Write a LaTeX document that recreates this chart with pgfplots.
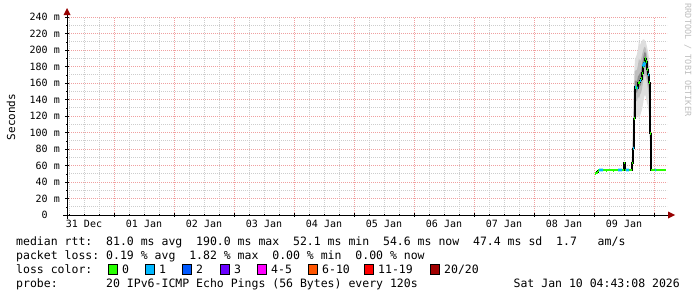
\documentclass[border=0pt]{standalone}
\usepackage{pgfplots}
\pgfplotsset{compat=1.18}
\usepackage{pgfplotstable}
\usepgfplotslibrary{fillbetween}
\usepackage{fontspec}
\setmainfont{DejaVu Sans Mono}
\newfontfamily\rrdmono{DejaVu Sans Mono}
\newcommand\legfont{\rrdmono\fontsize{11.5bp}{13bp}\selectfont}
\newcommand\axfont{\rrdmono\fontsize{10bp}{12bp}\selectfont}
\newcommand\unitfont{\rrdmono\fontsize{11bp}{13bp}\selectfont}
\newcommand\wmfont{\rrdmono\fontsize{8.5bp}{10bp}\selectfont}
\definecolor{mgrid}{RGB}{240,160,160}
\definecolor{sgrid}{RGB}{205,205,205}
\definecolor{arrowred}{RGB}{150,0,0}
\definecolor{wmgray}{RGB}{190,190,190}
\definecolor{lc0}{HTML}{26FF00}
\definecolor{lc1}{HTML}{00B8FF}
\definecolor{lc2}{HTML}{0059FF}
\definecolor{lc3}{HTML}{6A00FF}
\definecolor{lc45}{HTML}{FF00FF}
\definecolor{lc610}{HTML}{FF5500}
\definecolor{lc1119}{HTML}{FF0000}
\definecolor{lc20}{HTML}{A10000}
\definecolor{smoke1}{RGB}{222,222,222}
\definecolor{smoke2}{RGB}{190,190,190}
\definecolor{smoke3}{RGB}{140,140,140}

% median rtt, x in hours since 31 Dec 00:00
\pgfplotstableread{
x y
216.4 50
216.8 51
217.2 52
217.6 54
218.0 54.5
218.4 54.5
218.8 54.5
219.2 54.5
219.6 54.5
220.0 54.5
220.4 54.5
220.8 54.3
221.2 54.5
221.6 54.5
222.0 54.5
222.4 54.6
222.8 54.5
223.2 54.5
223.6 54.4
224.0 54.5
224.4 54.5
224.8 54.5
225.2 54.5
225.6 54.5
226.0 54.5
226.4 54.5
226.8 54.5
227.2 54.5
227.6 54.5
228.0 63
228.4 54.5
228.8 54.5
229.2 54.5
229.6 54.5
230.0 54.5
230.4 54.5
230.8 54.5
231.2 63
231.6 81
232.0 117
232.4 155
232.8 155
233.2 154
233.6 160
234.0 161
234.4 163
234.8 165
235.2 172
235.6 180
236.0 185
236.4 190
236.8 186
237.2 176
237.6 170
238.0 161
238.4 99
238.8 54.5
239.2 54.5
239.6 54.5
240.0 54.5
240.4 54.5
240.8 54.5
241.2 54.5
241.6 54.5
242.0 54.5
242.4 54.5
242.8 54.5
243.2 54.5
243.6 54.5
244.0 54.5
244.4 54.5
244.8 54.5
}\median

% smoke bands: x lo1 up1 lo2 up2 lo3 up3
\pgfplotstableread{
x lo1 up1 lo2 up2 lo3 up3
230.8 54.5 54.5 54.5 54.5 54.5 54.5
231.2 56 72 59 67 61 65
231.6 72 115 78 98 79 88
232.0 98 170 108 152 112 126
232.4 118 188 134 174 149 163
232.8 120 192 138 176 149 163
233.2 118 195 138 176 148 162
233.6 122 202 144 182 153 168
234.0 116 212 141 190 154 170
234.4 120 206 146 186 156 172
234.8 124 209 148 189 158 174
235.2 128 211 153 194 165 182
235.6 134 213 160 199 173 190
236.0 142 213 167 203 178 196
236.4 146 211 170 204 181 198
236.8 142 209 167 201 178 195
237.2 136 204 160 194 168 186
237.6 131 198 152 186 162 178
238.0 120 190 142 176 152 170
238.4 84 152 92 124 94 110
238.8 54.5 62 54.5 57 54.5 55
239.2 54.5 54.5 54.5 54.5 54.5 54.5
}\smoke

\begin{document}
\begin{tikzpicture}
\begin{axis}[
  at={(67bp,-215bp)}, anchor=south west,
  width=600bp, height=198bp, scale only axis,
  xmin=5.2, xmax=245.2, ymin=0, ymax=240,
  axis line style={draw=none},
  xtick={24,48,...,240}, xticklabels={},
  minor xtick={6,12,18,30,36,42,54,60,66,78,84,90,102,108,114,126,132,138,150,156,162,174,180,186,198,204,210,222,228,234},
  ytick={0,20,...,240},
  yticklabels={0\phantom{~m},20 m,40 m,60 m,80 m,100 m,120 m,140 m,160 m,180 m,200 m,220 m,240 m},
  minor ytick={10,30,...,230},
  grid=both,
  major grid style={mgrid, line width=0.7bp, dash pattern=on 1bp off 1bp},
  minor grid style={sgrid, line width=0.7bp, dash pattern=on 1bp off 1bp},
  xtick pos=bottom, ytick pos=left,
  tick align=center, major tick length=4bp, minor tick length=2bp,
  tick style={black, line width=0.5bp},
  extra x ticks={12,36,60,84,108,132,156,180,204,228},
  extra x tick labels={31 Dec,01 Jan,02 Jan,03 Jan,04 Jan,05 Jan,06 Jan,07 Jan,08 Jan,09 Jan},
  extra x tick style={grid=none, major tick length=0pt},
  xticklabel style={font=\axfont, anchor=base, inner sep=0pt, yshift=-12bp},
  yticklabel style={font=\axfont, anchor=east, inner sep=0pt, xshift=-5bp},
  unbounded coords=jump,
]
% smoke
\addplot[name path=l1, draw=none, forget plot] table[x=x, y=lo1] {\smoke};
\addplot[name path=u1, draw=none, forget plot] table[x=x, y=up1] {\smoke};
\addplot[smoke1, forget plot] fill between[of=l1 and u1];
\addplot[name path=l2, draw=none, forget plot] table[x=x, y=lo2] {\smoke};
\addplot[name path=u2, draw=none, forget plot] table[x=x, y=up2] {\smoke};
\addplot[smoke2, forget plot] fill between[of=l2 and u2];
\addplot[name path=l3, draw=none, forget plot] table[x=x, y=lo3] {\smoke};
\addplot[name path=u3, draw=none, forget plot] table[x=x, y=up3] {\smoke};
\addplot[smoke3, forget plot] fill between[of=l3 and u3];
% median line
\addplot[black, line width=1.3bp, const plot mark left, mark=none] table[x=x, y=y] {\median};
\addplot[lc0, line width=2.8bp, jump mark left, mark=none] table[x=x, y=y] {\median};
\addplot[lc1, line width=2.8bp, mark=none] coordinates {
 (218.0,54.5) (219.6,54.5) (219.7,nan)
 (225.6,54.5) (227.2,54.5) (227.3,nan)
 (228.8,54.5) (230.0,54.5) (230.1,nan)
 (231.6,81) (232.0,81) (232.1,nan)
 (232.4,155) (232.8,155) (232.9,nan)
 (233.2,154) (233.6,154) (233.7,nan)
 (234.4,163) (234.8,163) (234.9,nan)
 (235.6,180) (236.4,185) (236.5,nan)
 (237.6,170) (238.0,170) (238.1,nan)
 (240.4,54.5) (240.8,54.5)
};
\end{axis}
% axes
\draw[black, line width=1bp] (67bp,-219bp) -- (67bp,-14bp);
\draw[black, line width=1bp] (63bp,-215bp) -- (669bp,-215bp);
\fill[arrowred] (63.5bp,-15bp) -- (70.5bp,-15bp) -- (67bp,-8bp) -- cycle;
\fill[arrowred] (668bp,-211.5bp) -- (668bp,-218.5bp) -- (675bp,-215bp) -- cycle;
% unit label and watermark
\node[rotate=90, font=\unitfont, inner sep=0pt] at (11bp,-117bp) {Seconds};
\node[rotate=-90, font=\wmfont, text=wmgray, inner sep=0pt] at (688bp,-60bp) {RRDTOOL / TOBI OETIKER};
% legend
\node[anchor=base west, font=\legfont, inner sep=0pt] at (16bp,-245bp) {median~rtt:~~81.0~ms~avg~~190.0~ms~max~~52.1~ms~min~~54.6~ms~now~~47.4~ms~sd~~1.7~~~am/s};
\node[anchor=base west, font=\legfont, inner sep=0pt] at (16bp,-259bp) {packet~loss:~0.19~\%~avg~~1.82~\%~max~~0.00~\%~min~~0.00~\%~now};
\node[anchor=base west, font=\legfont, inner sep=0pt] at (16bp,-273bp) {loss~color:};
\foreach \bx/\col/\lab in {108/lc0/0, 145/lc1/1, 182/lc2/2, 220/lc3/3, 257/lc45/4-5, 308/lc610/6-10, 364/lc1119/11-19, 430/lc20/20\slash 20}{
  \filldraw[fill=\col, draw=black, line width=0.6bp] (\bx bp,-264bp) rectangle ++(9bp,-10bp);
  \node[anchor=base west, font=\legfont, inner sep=0pt] at (\bx bp+14bp,-273bp) {\lab};
}
\node[anchor=base west, font=\legfont, inner sep=0pt] at (16bp,-287bp) {probe:~~~~~~~20~IPv6-ICMP~Echo~Pings~(56~Bytes)~every~120s};
\node[anchor=base east, font=\legfont, inner sep=0pt] at (680bp,-287bp) {Sat~Jan~10~04:43:08~2026};
\pgfresetboundingbox
\path[use as bounding box] (0,0) rectangle (697bp,-297bp);
\end{tikzpicture}
\end{document}
